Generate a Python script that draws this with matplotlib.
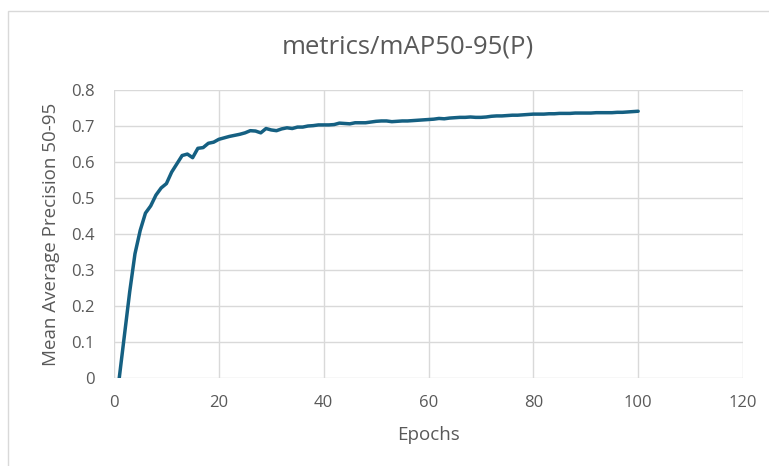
import matplotlib
matplotlib.use("Agg")
import matplotlib.pyplot as plt
from matplotlib.patches import Rectangle

epochs = list(range(1, 101))
map50_95 = [
    0.000, 0.120, 0.240, 0.345, 0.410, 0.458, 0.478, 0.508, 0.528, 0.540,
    0.572, 0.595, 0.618, 0.622, 0.612, 0.638, 0.640, 0.652, 0.655, 0.663,
    0.667, 0.671, 0.674, 0.677, 0.681, 0.687, 0.686, 0.681, 0.693, 0.689,
    0.687, 0.692, 0.695, 0.693, 0.697, 0.697, 0.700, 0.701, 0.703, 0.703,
    0.703, 0.704, 0.708, 0.707, 0.706, 0.709, 0.709, 0.709, 0.711, 0.713,
    0.714, 0.714, 0.712, 0.713, 0.714, 0.714, 0.715, 0.716, 0.717, 0.718,
    0.719, 0.721, 0.720, 0.722, 0.723, 0.724, 0.724, 0.725, 0.724, 0.724,
    0.725, 0.727, 0.728, 0.728, 0.729, 0.730, 0.730, 0.731, 0.732, 0.733,
    0.733, 0.733, 0.734, 0.734, 0.735, 0.735, 0.735, 0.736, 0.736, 0.736,
    0.736, 0.737, 0.737, 0.737, 0.737, 0.738, 0.738, 0.739, 0.740, 0.741,
]
x_ticks = [0, 20, 40, 60, 80, 100, 120]
y_ticks = [0, 0.1, 0.2, 0.3, 0.4, 0.5, 0.6, 0.7, 0.8]
y_tick_labels = ["0", "0.1", "0.2", "0.3", "0.4", "0.5", "0.6", "0.7", "0.8"]

title = "metrics/mAP50-95(P)"
x_label = "Epochs"
y_label = "Mean Average Precision 50-95"

text_color = "#595959"
grid_color = "#d9d9d9"
line_color = "#156082"

plt.rcParams["font.family"] = ["Open Sans", "DejaVu Sans"]

W, H = 769, 466
fig = plt.figure(figsize=(W / 100, H / 100), dpi=100)
fig.patch.set_facecolor("white")

# chart-area border
fig.patches.append(Rectangle((8 / W, -0.01), 1.0, (H - 11) / H + 0.01,
                             transform=fig.transFigure, fill=False,
                             edgecolor="#d9d9d9", linewidth=1.0))

ax = fig.add_axes([114 / W, 1 - 378 / H, (743 - 114) / W, (378 - 90) / H])
ax.plot(epochs, map50_95, color=line_color, linewidth=2.5,
        solid_joinstyle="round", solid_capstyle="round", zorder=3)

ax.set_xlim(0, 120)
ax.set_ylim(0, 0.8)
ax.set_xticks(x_ticks)
ax.set_yticks(y_ticks)
ax.set_yticklabels(y_tick_labels)
ax.grid(True, color=grid_color, linewidth=1.0)
ax.set_axisbelow(True)
for s in ax.spines.values():
    s.set_visible(False)
ax.tick_params(length=0, colors=text_color, labelsize=12)
ax.tick_params(axis="y", pad=14)
ax.tick_params(axis="x", pad=12)

ax.set_xlabel(x_label, color=text_color, fontsize=13.5)
ax.set_ylabel(y_label, color=text_color, fontsize=13.5)
ax.xaxis.set_label_coords(0.5, (378 - 435) / 288, transform=ax.transAxes)
ax.yaxis.set_label_coords((51 - 114) / 629, 0.5, transform=ax.transAxes)
ax.xaxis.label.set_va("center")
ax.yaxis.label.set_va("center")

fig.text(408 / W, 1 - 47 / H, title, ha="center", va="center",
         color=text_color, fontsize=18.5)

fig.savefig("out.png", dpi=100)
